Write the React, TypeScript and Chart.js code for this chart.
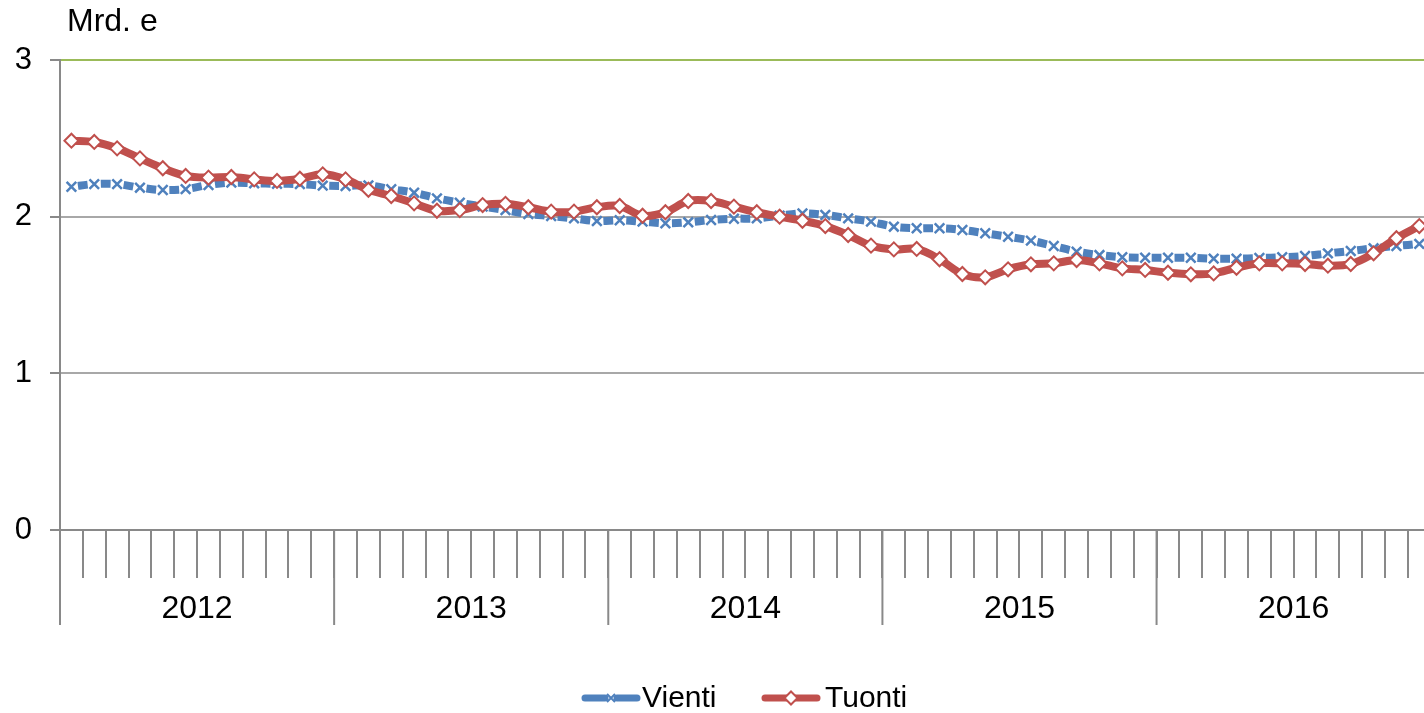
import React, { useEffect, useRef } from 'react';
import { Chart, registerables } from 'chart.js';

Chart.register(...registerables);

const years = ['2012', '2013', '2014', '2015', '2016'];
const months = ['01', '02', '03', '04', '05', '06', '07', '08', '09', '10', '11', '12'];
const categories = years.flatMap((y) => months.map((m) => `${y}-${m}`));

const vienti = [
  2.191, 2.208, 2.208, 2.185, 2.170, 2.176, 2.202, 2.217, 2.213, 2.210, 2.208, 2.198,
  2.196, 2.200, 2.175, 2.153, 2.117, 2.089, 2.064, 2.042, 2.017, 2.004, 1.989, 1.972,
  1.977, 1.968, 1.958, 1.964, 1.979, 1.987, 1.989, 2.006, 2.021, 2.011, 1.989, 1.968,
  1.936, 1.926, 1.926, 1.915, 1.894, 1.872, 1.847, 1.813, 1.777, 1.755, 1.741, 1.738,
  1.738, 1.738, 1.732, 1.732, 1.736, 1.741, 1.749, 1.766, 1.781, 1.798, 1.813, 1.826,
];

const tuonti = [
  2.485, 2.477, 2.436, 2.372, 2.309, 2.260, 2.249, 2.253, 2.238, 2.228, 2.242, 2.270,
  2.238, 2.172, 2.132, 2.085, 2.038, 2.042, 2.074, 2.082, 2.060, 2.032, 2.032, 2.060,
  2.068, 2.006, 2.028, 2.100, 2.100, 2.064, 2.028, 2.000, 1.974, 1.940, 1.883, 1.815,
  1.791, 1.794, 1.728, 1.634, 1.613, 1.664, 1.696, 1.702, 1.723, 1.702, 1.670, 1.660,
  1.642, 1.632, 1.638, 1.674, 1.702, 1.702, 1.698, 1.687, 1.698, 1.766, 1.862, 1.940,
];

const yTicks = [0, 1, 2, 3];
const unitLabel = 'Mrd. e';
const seriesNames = ['Vienti', 'Tuonti'];

const FONT = 'Arial, "Liberation Sans", sans-serif';
const BLUE = '#4F81BD';
const RED = '#C0504D';
const AXIS = '#898989';
const GRID = '#A8A8A8';
const TOPGRID = '#9BBB59';

const decor = {
  id: 'decor',
  afterDraw(chart: any) {
    const ctx = chart.ctx as CanvasRenderingContext2D;
    const xs = chart.scales.x;
    const top = xs.top;
    ctx.save();
    // year boundary long ticks
    ctx.strokeStyle = AXIS;
    ctx.lineWidth = 2;
    for (let k = 0; k <= years.length; k++) {
      const px = xs.getPixelForValue(k * 12 - 0.5);
      ctx.beginPath();
      ctx.moveTo(px, top);
      ctx.lineTo(px, top + 95);
      ctx.stroke();
    }
    // year labels
    ctx.fillStyle = '#000';
    ctx.font = `32px ${FONT}`;
    ctx.textAlign = 'center';
    ctx.textBaseline = 'alphabetic';
    years.forEach((y, k) => {
      ctx.fillText(y, xs.getPixelForValue(k * 12 + 5.5), 618);
    });
    // unit label
    ctx.textAlign = 'left';
    ctx.fillText(unitLabel, 67, 31);

    // legend
    const ly = 698;
    ctx.lineCap = 'round';
    ctx.lineWidth = 7;
    ctx.strokeStyle = BLUE;
    ctx.beginPath();
    ctx.moveTo(585, ly);
    ctx.lineTo(605, ly);
    ctx.moveTo(617, ly);
    ctx.lineTo(637, ly);
    ctx.stroke();
    ctx.lineCap = 'butt';
    ctx.lineWidth = 2;
    ctx.beginPath();
    ctx.moveTo(607, ly - 4);
    ctx.lineTo(615, ly + 4);
    ctx.moveTo(607, ly + 4);
    ctx.lineTo(615, ly - 4);
    ctx.stroke();

    ctx.lineCap = 'round';
    ctx.lineWidth = 7;
    ctx.strokeStyle = RED;
    ctx.beginPath();
    ctx.moveTo(765, ly);
    ctx.lineTo(817, ly);
    ctx.stroke();
    ctx.lineWidth = 2;
    ctx.fillStyle = '#fff';
    ctx.beginPath();
    ctx.moveTo(791 - 6.5, ly);
    ctx.lineTo(791, ly - 6.5);
    ctx.lineTo(791 + 6.5, ly);
    ctx.lineTo(791, ly + 6.5);
    ctx.closePath();
    ctx.fill();
    ctx.stroke();

    ctx.fillStyle = '#000';
    ctx.font = `30px ${FONT}`;
    ctx.textAlign = 'left';
    ctx.fillText(seriesNames[0], 642, 707);
    ctx.fillText(seriesNames[1], 825, 707);
    ctx.restore();
  },
};

export default function App() {
  const canvasRef = useRef<HTMLCanvasElement | null>(null);

  useEffect(() => {
    const canvas = canvasRef.current;
    if (!canvas) return;
    const chart = new Chart(canvas, {
      type: 'line',
      data: {
        labels: categories,
        datasets: [
          {
            label: seriesNames[0],
            data: vienti,
            borderColor: BLUE,
            backgroundColor: BLUE,
            borderWidth: 8,
            borderDash: [10, 12.88],
            borderCapStyle: 'butt',
            pointStyle: 'crossRot',
            pointRadius: 6.8,
            pointBorderWidth: 2.5,
            pointBorderColor: BLUE,
            pointBackgroundColor: BLUE,
            tension: 0.35,
            order: 1,
            segment: {
              borderDashOffset: (c: any) => 16.44 + (c.p0DataIndex % 2) * 22.88,
            },
          } as any,
          {
            label: seriesNames[1],
            data: tuonti,
            borderColor: RED,
            backgroundColor: RED,
            borderWidth: 8,
            borderJoinStyle: 'round',
            pointStyle: 'rectRot',
            pointRadius: 7,
            pointBorderWidth: 2,
            pointBorderColor: RED,
            pointBackgroundColor: '#ffffff',
            tension: 0.35,
            order: 0,
          } as any,
        ],
      },
      options: {
        responsive: false,
        animation: false,
        events: [],
        layout: { padding: { top: 60, left: 0, right: 7, bottom: 0 } },
        plugins: {
          legend: { display: false },
          tooltip: { enabled: false },
        },
        scales: {
          x: {
            type: 'category',
            offset: true,
            afterFit: (s: any) => {
              s.height = 183;
            },
            ticks: { display: false },
            grid: {
              offset: true,
              drawOnChartArea: false,
              drawTicks: true,
              tickLength: 48,
              color: AXIS,
              lineWidth: 2,
            },
            border: { display: true, color: AXIS, width: 2 },
          },
          y: {
            min: 0,
            max: 3,
            afterFit: (s: any) => {
              s.width = 60;
            },
            afterBuildTicks: (s: any) => {
              s.ticks = yTicks.map((v) => ({ value: v }));
            },
            ticks: {
              font: { size: 31, family: FONT },
              color: '#000',
              padding: 18,
            },
            grid: {
              color: (c: any) => (c.tick && c.tick.value === 3 ? TOPGRID : GRID),
              tickColor: AXIS,
              lineWidth: 2,
              drawTicks: true,
              tickLength: 10,
            },
            border: { display: true, color: AXIS, width: 2 },
          },
        },
      },
      plugins: [decor],
    } as any);
    return () => chart.destroy();
  }, []);

  return (
    <div
      style={{
        position: 'fixed',
        left: 0,
        top: 0,
        width: 1424,
        height: 713,
        overflow: 'hidden',
        background: '#fff',
      }}
    >
      <canvas
        ref={canvasRef}
        width={1440}
        height={713}
        style={{ display: 'block', width: 1440, height: 713 }}
      />
    </div>
  );
}
